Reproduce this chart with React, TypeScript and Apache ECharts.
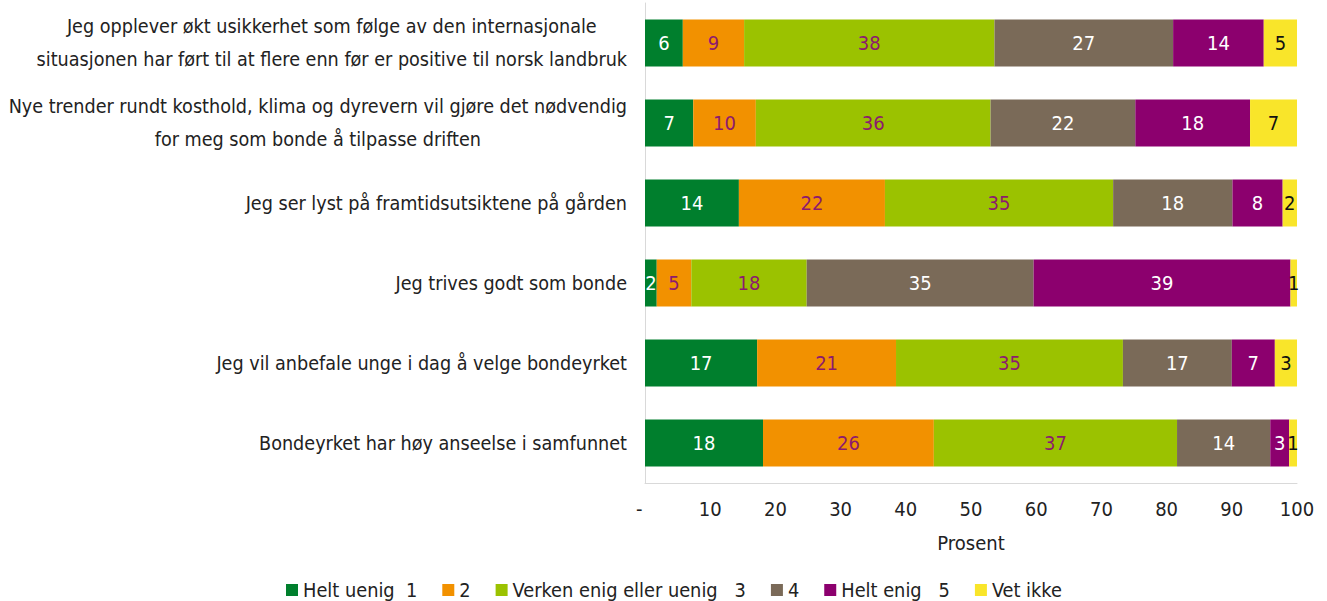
import React, { useEffect, useRef } from "react";
import * as echarts from "echarts";

const categories = [
  "Jeg opplever økt usikkerhet som følge av den internasjonale\nsituasjonen har ført til at flere enn før er positive til norsk landbruk",
  "Nye trender rundt kosthold, klima og dyrevern vil gjøre det nødvendig\nfor meg som bonde å tilpasse driften",
  "Jeg ser lyst på framtidsutsiktene på gården",
  "Jeg trives godt som bonde",
  "Jeg vil anbefale unge i dag å velge bondeyrket",
  "Bondeyrket har høy anseelse i samfunnet",
];

const seriesNames = ["Helt uenig  1", "2", "Verken enig eller uenig   3", "4", "Helt enig   5", "Vet ikke"];

const heltUenig = [5.8, 7.4, 14.4, 1.8, 17.2, 18.1];
const s2 = [9.4, 9.6, 22.4, 5.3, 21.3, 26.2];
const verken = [38.4, 36.0, 35.0, 17.7, 34.8, 37.3];
const s4 = [27.4, 22.2, 18.3, 34.8, 16.7, 14.3];
const heltEnig = [13.9, 17.6, 7.7, 39.4, 6.6, 2.9];
const vetIkke = [5.1, 7.2, 2.2, 1.0, 3.4, 1.2];

const colors = ["#007F2D", "#F29100", "#9BC200", "#7A6A58", "#8C006E", "#F9E52A"];
const labelColors = ["#FFFFFF", "#8C1A6E", "#8C1A6E", "#FFFFFF", "#FFFFFF", "#111111"];

const FONT = "'DejaVu Sans Condensed', 'Liberation Sans Narrow', 'Liberation Sans', sans-serif";
const FS = 20;

export default function App() {
  const ref = useRef<HTMLDivElement>(null);
  useEffect(() => {
    document.body.style.margin = "0";
    document.body.style.overflow = "hidden";
    if (!ref.current) return;
    const chart = echarts.init(ref.current, null, { renderer: "svg" });
    const data = [heltUenig, s2, verken, s4, heltEnig, vetIkke];
    chart.setOption({
      animation: false,
      textStyle: { fontFamily: FONT },
      grid: { left: 645, right: 30, top: 3, height: 480, outerBoundsMode: "none", containLabel: false },
      legend: {
        top: 575,
        left: 281,
        itemWidth: 12,
        itemHeight: 12,
        itemGap: 25,
        itemStyle: { borderWidth: 0 },
        icon: "rect",
        textStyle: { fontFamily: FONT, fontSize: 19.8, color: "#222" },
        data: seriesNames,
      },
      xAxis: {
        type: "value",
        min: 0,
        max: 100,
        interval: 10,
        name: "Prosent",
        nameLocation: "middle",
        nameGap: 50,
        nameTextStyle: { fontFamily: FONT, fontSize: FS, color: "#222" },
        axisLine: { show: true, lineStyle: { color: "#D9D9D9" } },
        axisTick: { show: false },
        splitLine: { show: false },
        axisLabel: {
          fontFamily: FONT,
          fontSize: FS,
          color: "#222",
          margin: 16,
          formatter: (v: number) => (v === 0 ? "-  " : String(v)),
        },
      },
      yAxis: {
        type: "category",
        inverse: true,
        data: categories,
        axisLine: { show: true, lineStyle: { color: "#D9D9D9" } },
        axisTick: { show: false },
        axisLabel: {
          margin: 18,
          align: "right",
          formatter: (v: string) =>
            v
              .split("\n")
              .map((l) => `{c|${l}}`)
              .join("\n"),
          rich: {
            c: { fontFamily: FONT, fontSize: 19.6, color: "#222", lineHeight: 33, align: "center" },
          },
        },
      },
      series: seriesNames.map((name, i) => ({
        name,
        type: "bar",
        stack: "total",
        barWidth: 47,
        itemStyle: { color: colors[i] },
        label: {
          show: true,
          position: "inside",
          fontFamily: FONT,
          fontSize: FS,
          color: labelColors[i],
          formatter: (p: any) => String(Math.round(p.value)),
        },
        data: data[i],
      })),
    });
    return () => chart.dispose();
  }, []);
  return <div ref={ref} style={{ width: 1327, height: 601 }} />;
}
